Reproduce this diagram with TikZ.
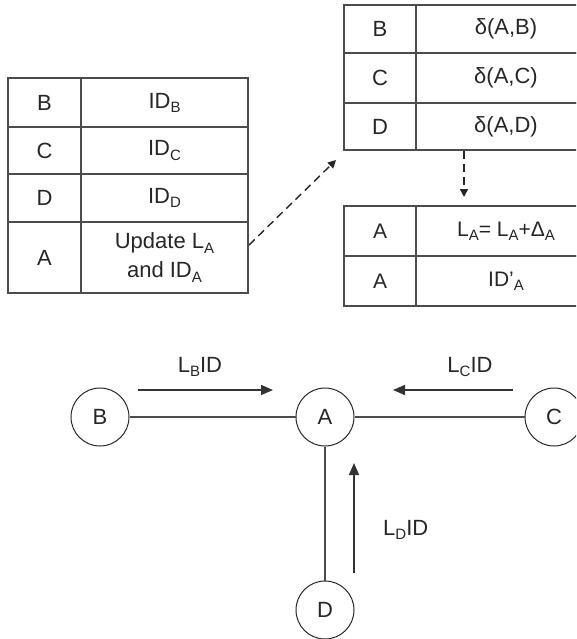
\documentclass[tikz,border=0pt]{standalone}
\usepackage{fontspec}
\setmainfont{Liberation Sans}
\usetikzlibrary{arrows.meta}
\newcommand\sbs[1]{\raisebox{-0.35ex}{\fontsize{15}{15}\selectfont #1}}
\begin{document}
\begin{tikzpicture}[x=1pt,y=-1pt,
  cell/.style={draw=black!70, line width=1.5pt, inner sep=0pt, align=center,
    font=\fontsize{22}{29}\selectfont, text=black!85},
  cella/.style={cell, minimum width=73pt},
  cellb/.style={cell, minimum width=167pt},
  cellc/.style={cell, minimum width=72pt},
  celld/.style={cell, minimum width=180pt},
  small/.style={font=\fontsize{21}{25}\selectfont},
  nodecirc/.style={draw=black!85, circle, line width=1pt, minimum size=58pt, inner sep=0pt,
    font=\fontsize{22}{26}\selectfont, text=black!85},
  link/.style={draw=black!70, line width=1.3pt},
  msg/.style={draw=black!80, line width=1.6pt, -{Triangle[length=12pt,width=10pt]}},
  dasharrow/.style={draw=black!85, line width=1.4pt, dash pattern=on 8pt off 5pt,
    -{Triangle[length=8pt,width=8pt]}},
  lbl/.style={font=\fontsize{22}{26}\selectfont, text=black!85, inner sep=0pt}
]
\clip (0,0) rectangle (576,639);
% left table
\node[cella, minimum height=49pt] (lb1) at (44.5,102.5) {B};
\node[cellb, minimum height=49pt] (lb2) at (164.5,102.5) {ID\sbs{B}};
\node[cella, minimum height=47pt] (lc1) at (44.5,150.5) {C};
\node[cellb, minimum height=47pt] (lc2) at (164.5,150.5) {ID\sbs{C}};
\node[cella, minimum height=48pt] (ld1) at (44.5,198) {D};
\node[cellb, minimum height=48pt] (ld2) at (164.5,198) {ID\sbs{D}};
\node[cella, minimum height=71pt] (la1) at (44.5,257.5) {A};
\node[cellb, minimum height=71pt] (la2) at (164.5,257.5) {Update L\sbs{A}\\and ID\sbs{A}};
% right upper table
\node[cellc, minimum height=48pt] (rb1) at (380,29) {B};
\node[celld, minimum height=48pt] (rb2) at (506,29) {δ(A,B)};
\node[cellc, minimum height=50pt] (rc1) at (380,78) {C};
\node[celld, minimum height=50pt] (rc2) at (506,78) {δ(A,C)};
\node[cellc, minimum height=47pt] (rd1) at (380,126.5) {D};
\node[celld, minimum height=47pt] (rd2) at (506,126.5) {δ(A,D)};
% right lower table
\node[cellc, small, minimum height=50pt] (ua1) at (380,231) {A};
\node[celld, small, minimum height=50pt] (ua2) at (506,231) {L\sbs{A}= L\sbs{A}+Δ\sbs{A}};
\node[cellc, small, minimum height=50pt] (ub1) at (380,281) {A};
\node[celld, small, minimum height=50pt] (ub2) at (506,281) {ID’\sbs{A}};
% dashed arrows
\coordinate (ds) at (249,245);
\coordinate (de) at (336,160);
\draw[dasharrow] (ds) -- (de);
\coordinate (vs) at (464,151);
\coordinate (ve) at (464,197);
\draw[dasharrow] (vs) -- (ve);
% graph
\node[nodecirc] (B) at (100,417) {B};
\node[nodecirc] (A) at (325,417) {A};
\node[nodecirc] (C) at (554,417) {C};
\node[nodecirc] (D) at (325,610) {D};
\draw[link] (B) -- (A);
\draw[link] (A) -- (C);
\draw[link] (A) -- (D);
% messages
\coordinate (b1) at (138,390);
\coordinate (b2) at (273,390);
\draw[msg] (b1) -- (b2);
\node[lbl] (lbB) at (200,367) {L\sbs{B}ID};
\coordinate (c1) at (513,390);
\coordinate (c2) at (393,390);
\draw[msg] (c1) -- (c2);
\node[lbl] (lbC) at (470,367) {L\sbs{C}ID};
\coordinate (d1) at (354,573);
\coordinate (d2) at (354,463);
\draw[msg] (d1) -- (d2);
\node[lbl, anchor=west] (lbD) at (383,530) {L\sbs{D}ID};
\end{tikzpicture}
\end{document}
